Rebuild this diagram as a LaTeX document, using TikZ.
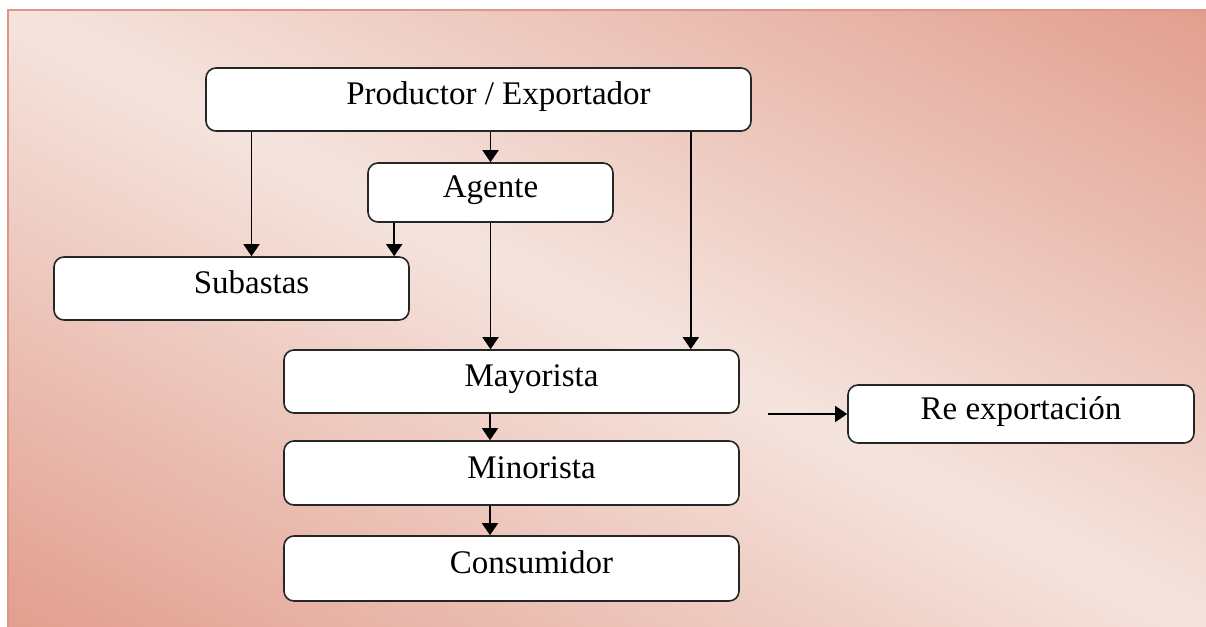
\documentclass[tikz,border=0pt]{standalone}
\usepackage{fontspec}
\setmainfont{Liberation Serif}
\usepackage{xcolor}
\usepackage{tikz}
\usetikzlibrary{arrows.meta, positioning, calc}

\definecolor{salmon}{RGB}{226,158,142}
\definecolor{blush}{RGB}{245,228,222}
\definecolor{rim}{RGB}{224,150,134}

\begin{document}
\begin{tikzpicture}[
  x=0.5pt, y=-0.5pt,
  arrow/.style={-{Triangle[width=8pt, length=6pt]}, line width=0.8pt},
  box/.style={draw=black!85, line width=0.8pt, rectangle, rounded corners=5pt, fill=white,
    align=center, font=\fontsize{16.5}{20}\selectfont, text height=11pt, text depth=6pt}
]

  \useasboundingbox (0,0) rectangle (1206,627);

  % background, light band along the diagonal
  \begin{scope}
    \clip (8,10) rectangle (1206,627);
    \begin{scope}[transform canvas={rotate around={-27.2:(607,318.5)}}]
      \shade[top color=salmon, bottom color=salmon, middle color=blush]
        (-293,-231.5) rectangle (1507,868.5);
    \end{scope}
  \end{scope}
  \draw[rim, line width=1pt] (1206,10) -- (8,10) -- (8,627);

  % boxes
  \node[box, minimum width=272.5pt, minimum height=31.5pt] (prod) at (478.5, 99.5) {\hspace{20pt}Productor / Exportador};
  \node[box, minimum width=122.5pt, minimum height=29.5pt] (agente) at (490.5, 192.5) {Agente};
  \node[box, minimum width=177.5pt, minimum height=31.5pt] (subastas) at (231.5, 288.5) {\hspace{20pt}Subastas};
  \node[box, minimum width=227.5pt, minimum height=31.5pt] (mayor) at (511.5, 381.5) {\hspace{20pt}Mayorista};
  \node[box, minimum width=227.5pt, minimum height=32pt] (minor) at (511.5, 473) {\hspace{20pt}Minorista};
  \node[box, minimum width=227.5pt, minimum height=32.5pt] (consum) at (511.5, 568.5) {\hspace{20pt}Consumidor};
  \node[box, minimum width=173pt, minimum height=29pt] (reexp) at (1021, 414) {Re exportación};

  % connectors
  \coordinate (c1) at ($(subastas.north)+(20,0)$);
  \coordinate (c2) at ($(agente.south west)+(27,0)$);
  \coordinate (c3) at ($(prod.south east)+(-61,0)$);
  \coordinate (c4) at ($(mayor.south)+(-21.5,0)$);
  \coordinate (c5) at ($(minor.south)+(-21.5,0)$);
  \coordinate (c6) at ($(mayor.east |- reexp.west)+(28,0)$);

  \draw[arrow] (agente.north |- prod.south) -- (agente.north);
  \draw[arrow] (c1 |- prod.south) -- (c1);
  \draw[arrow] (c2) -- (c2 |- subastas.north);
  \draw[arrow] (agente.south) -- (agente.south |- mayor.north);
  \draw[arrow] (c3) -- (c3 |- mayor.north);
  \draw[arrow] (c4) -- (c4 |- minor.north);
  \draw[arrow] (c5) -- (c5 |- consum.north);
  \draw[arrow] (c6) -- (reexp.west);

\end{tikzpicture}
\end{document}
